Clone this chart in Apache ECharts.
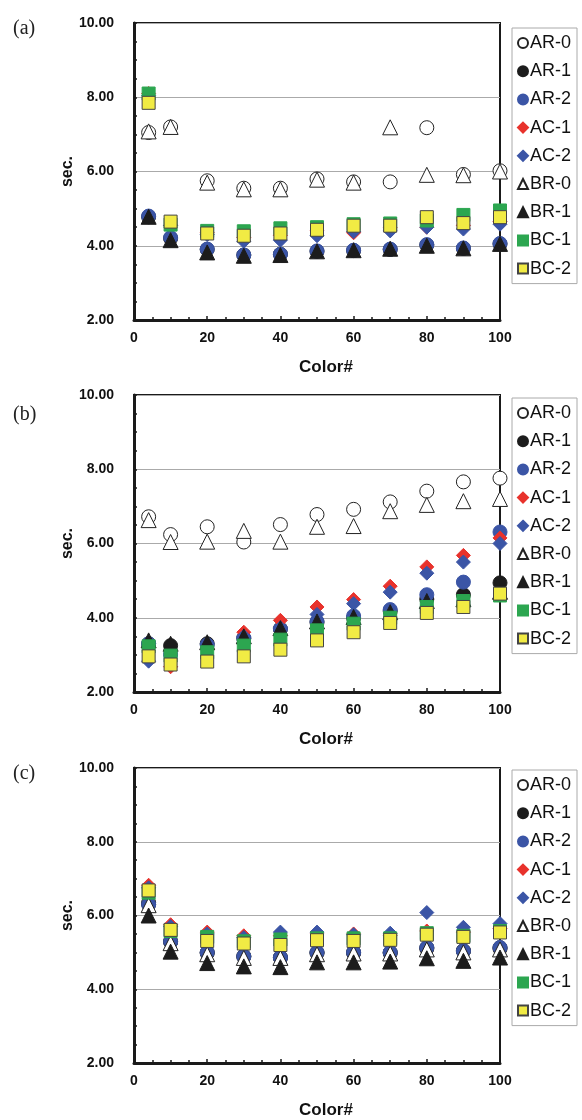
<!DOCTYPE html>
<html>
<head>
<meta charset="utf-8">
<script src="https://cdn.jsdelivr.net/npm/echarts@6/dist/echarts.min.js"></script>
<style>
  html, body { margin: 0; padding: 0; background: #fff; }
  #chart { width: 582px; height: 1120px; }
</style>
</head>
<body>
<div id="chart"></div>
<script>
// color numbers on the x axis
const colorNo = [4, 10, 20, 30, 40, 50, 60, 70, 80, 90, 100];
const seriesNames = ["AR-0", "AR-1", "AR-2", "AC-1", "AC-2", "BR-0", "BR-1", "BC-1", "BC-2"];
const panelLabels = ["(a)", "(b)", "(c)"];

// panel (a)
const a_AR0 = [7.05, 7.2, 5.75, 5.55, 5.55, 5.8, 5.72, 5.72, 7.18, 5.92, 6.02];
const a_AR1 = [4.78, 4.2, 3.9, 3.75, 3.77, 3.85, 3.87, 3.9, 4.02, 3.93, 4.05];
const a_AR2 = [4.8, 4.22, 3.91, 3.75, 3.77, 3.86, 3.88, 3.91, 4.03, 3.94, 4.06];
const a_AC1 = [8.1, 4.55, 4.35, 4.22, 4.28, 4.4, 4.35, 4.5, 4.5, 4.55, 4.65];
const a_AC2 = [8.05, 4.55, 4.3, 4.12, 4.15, 4.27, 4.38, 4.4, 4.5, 4.45, 4.58];
const a_BR0 = [7.08, 7.2, 5.7, 5.52, 5.52, 5.78, 5.7, 7.19, 5.91, 5.9, 6.0];
const a_BR1 = [4.78, 4.15, 3.82, 3.73, 3.75, 3.85, 3.88, 3.92, 4.0, 3.93, 4.05];
const a_BC1 = [8.1, 4.57, 4.4, 4.39, 4.47, 4.5, 4.58, 4.6, 4.68, 4.83, 4.95];
const a_BC2 = [7.85, 4.65, 4.33, 4.27, 4.33, 4.43, 4.54, 4.54, 4.77, 4.61, 4.77];

// panel (b)
const b_AR0 = [6.72, 6.24, 6.45, 6.04, 6.51, 6.78, 6.92, 7.12, 7.41, 7.66, 7.76];
const b_AR1 = [3.3, 3.25, 3.3, 3.45, 3.7, 3.88, 4.0, 4.18, 4.5, 4.62, 4.94];
const b_AR2 = [3.3, 3.0, 3.27, 3.45, 3.7, 3.9, 4.05, 4.22, 4.62, 4.96, 6.31];
const b_AC1 = [3.2, 2.68, 3.16, 3.61, 3.93, 4.29, 4.49, 4.85, 5.37, 5.68, 6.15];
const b_AC2 = [2.83, 3.05, 3.3, 3.5, 3.73, 4.09, 4.38, 4.69, 5.2, 5.5, 6.0];
const b_BR0 = [6.63, 6.04, 6.05, 6.34, 6.05, 6.45, 6.47, 6.87, 7.04, 7.14, 7.2];
const b_BR1 = [3.39, 3.3, 3.34, 3.5, 3.72, 3.9, 4.02, 4.15, 4.45, 4.5, 4.7];
const b_BC1 = [3.23, 2.98, 3.07, 3.25, 3.41, 3.66, 3.84, 4.0, 4.29, 4.45, 4.6];
const b_BC2 = [2.96, 2.74, 2.82, 2.96, 3.14, 3.39, 3.61, 3.86, 4.13, 4.29, 4.65];

// panel (c)
const c_AR0 = [6.35, 5.3, 5.0, 4.9, 4.87, 5.0, 5.0, 5.0, 5.13, 5.05, 5.13];
const c_AR1 = [6.3, 5.28, 4.98, 4.88, 4.85, 4.98, 4.98, 4.98, 5.1, 5.03, 5.1];
const c_AR2 = [6.3, 5.29, 5.0, 4.89, 4.86, 5.0, 5.0, 5.0, 5.13, 5.04, 5.13];
const c_AC1 = [6.82, 5.75, 5.55, 5.45, 5.45, 5.5, 5.5, 5.45, 5.58, 5.55, 5.65];
const c_AC2 = [6.75, 5.7, 5.5, 5.4, 5.55, 5.55, 5.48, 5.52, 6.08, 5.68, 5.78];
const c_BR0 = [6.28, 5.25, 4.95, 4.85, 4.85, 4.95, 4.97, 4.97, 5.08, 5.0, 5.08];
const c_BR1 = [6.0, 5.02, 4.71, 4.62, 4.6, 4.73, 4.73, 4.75, 4.84, 4.77, 4.86];
const c_BC1 = [6.62, 5.58, 5.42, 5.3, 5.35, 5.38, 5.38, 5.38, 5.52, 5.45, 5.58];
const c_BC2 = [6.68, 5.61, 5.31, 5.24, 5.2, 5.33, 5.31, 5.34, 5.48, 5.42, 5.54];

const panels = [
  [a_AR0, a_AR1, a_AR2, a_AC1, a_AC2, a_BR0, a_BR1, a_BC1, a_BC2],
  [b_AR0, b_AR1, b_AR2, b_AC1, b_AC2, b_BR0, b_BR1, b_BC1, b_BC2],
  [c_AR0, c_AR1, c_AR2, c_AC1, c_AC2, c_BR0, c_BR1, c_BC1, c_BC2]
];

// marker look per series
const markers = [
  { symbol: "circle", size: 14, color: "#ffffff", border: "#222" },
  { symbol: "circle", size: 14, color: "#1c1c1c", border: "#1c1c1c" },
  { symbol: "circle", size: 14, color: "#3b55a6", border: "#3b55a6" },
  { symbol: "diamond", size: 14, color: "#e8322c", border: "#e8322c" },
  { symbol: "diamond", size: 14, color: "#3b55a6", border: "#3b55a6" },
  { symbol: "triangle", size: 15, color: "#ffffff", border: "#222" },
  { symbol: "triangle", size: 15, color: "#1c1c1c", border: "#1c1c1c" },
  { symbol: "rect", size: 13, color: "#2ca650", border: "#2ca650" },
  { symbol: "rect", size: 13, color: "#f1eb44", border: "#444" }
];

const gridTops = [23, 395, 768];
const legendTops = [28, 398, 770];
const labelTops = [14, 400, 759];

let chart = echarts.init(document.getElementById("chart"));

let grid = [], xAxis = [], yAxis = [], series = [], legend = [], title = [];
gridTops.forEach((top, i) => {
  grid.push({
    left: 134, top: top, width: 366, height: 297,
    show: true, borderColor: "#1a1a1a", borderWidth: 2, backgroundColor: "#fff"
  });
  xAxis.push({
    gridIndex: i, type: "value", min: 0, max: 100, interval: 20,
    name: "Color#", nameLocation: "middle", nameGap: 39, nameMoveOverlap: false,
    nameTextStyle: { fontFamily: "Liberation Sans", fontWeight: "bold", fontSize: 17, color: "#111", padding: [0, 0, 0, 18] },
    axisLine: { show: true, lineStyle: { color: "#1a1a1a", width: 3 } },
    axisTick: { show: true, inside: true, length: 4, lineStyle: { color: "#1a1a1a", width: 1.5 } },
    minorTick: { show: true, splitNumber: 4, length: 3, lineStyle: { color: "#1a1a1a", width: 1.5 } },
    axisLabel: { fontFamily: "Liberation Sans", fontWeight: "bold", fontSize: 14, color: "#111", margin: 11 },
    splitLine: { show: false }
  });
  yAxis.push({
    gridIndex: i, type: "value", min: 2, max: 10, interval: 2,
    name: "sec.", nameLocation: "middle", nameGap: 58, nameRotate: 90, nameMoveOverlap: false,
    nameTextStyle: { fontFamily: "Liberation Sans", fontWeight: "bold", fontSize: 16, color: "#111" },
    axisLine: { show: true, lineStyle: { color: "#1a1a1a", width: 3 } },
    axisTick: { show: true, inside: true, length: 3, lineStyle: { color: "#1a1a1a", width: 1.5 } },
    minorTick: { show: true, splitNumber: 4, length: 3, lineStyle: { color: "#1a1a1a", width: 1.5 } },
    axisLabel: { fontFamily: "Liberation Sans", fontWeight: "bold", fontSize: 14, color: "#111", margin: 20,
      formatter: (v) => v.toFixed(2) },
    splitLine: { show: true, lineStyle: { color: "#aaaaaa", width: 1 } }
  });
  panels[i].forEach((vals, k) => {
    let m = markers[k];
    series.push({
      name: seriesNames[k], type: "scatter", xAxisIndex: i, yAxisIndex: i,
      symbol: m.symbol, symbolSize: m.size,
      itemStyle: { color: m.color, borderColor: m.border, borderWidth: 1, opacity: 1 },
      emphasis: { disabled: true },
      data: colorNo.map((x, j) => [x, vals[j]])
    });
  });
  legend.push({
    orient: "vertical", left: 512, top: legendTops[i],
    data: seriesNames, selectedMode: false,
    itemWidth: 10, itemHeight: 10, itemGap: 10.2,
    padding: [6, 6, 6, 5],
    borderColor: "#aaa", borderWidth: 1,
    textStyle: { fontFamily: "Liberation Sans", fontSize: 18, lineHeight: 18, color: "#111", padding: [0, 0, 0, -3] }
  });
  title.push({
    text: panelLabels[i], left: 8, top: labelTops[i],
    textStyle: { fontFamily: "Liberation Serif", fontWeight: "normal", fontSize: 20, color: "#222" }
  });
});

let option = {
  animation: false,
  backgroundColor: "#fff",
  title: title,
  grid: grid,
  xAxis: xAxis,
  yAxis: yAxis,
  legend: legend,
  series: series
};
chart.setOption(option);
</script>
</body>
</html>
